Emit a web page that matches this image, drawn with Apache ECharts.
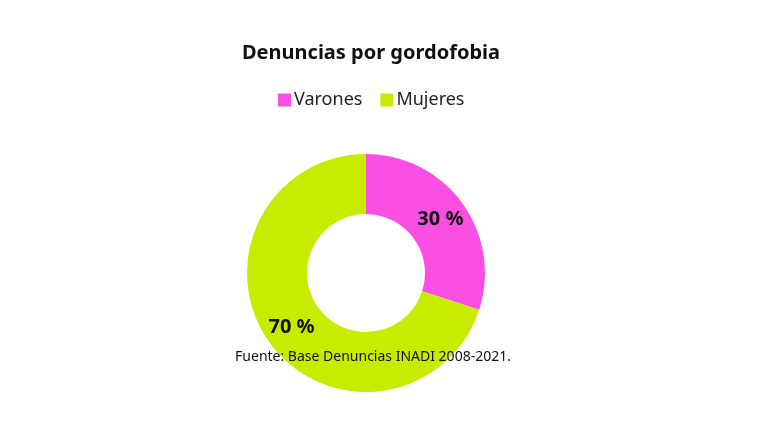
<!DOCTYPE html>
<html><head><meta charset="utf-8">
<script src="https://cdn.jsdelivr.net/npm/echarts@6/dist/echarts.min.js"></script>
<style>html,body{margin:0;padding:0;background:#fff}#c{width:768px;height:432px}</style>
</head><body><div id="c"></div>
<script>
const categories = ['Varones', 'Mujeres'];
const values = [30, 70];
const colors = ['#fb4fe3', '#c8ec00'];
const chart = echarts.init(document.getElementById('c'));
chart.setOption({
  animation: false,
  color: colors,
  title: [{
    text: 'Denuncias por gordofobia', left: 366, top: 38, textAlign: 'center',
    textStyle: {fontFamily: 'Noto Sans', fontWeight: 'bold', fontSize: 20, color: '#111'}
  }, {
    text: 'Fuente: Base Denuncias INADI 2008-2021.', left: 368, top: 345, textAlign: 'center',
    textStyle: {fontFamily: 'Noto Sans', fontWeight: 'normal', fontSize: 14, color: '#111'}
  }],
  legend: {
    data: categories, left: 273, top: 86, itemWidth: 13, itemHeight: 13, icon: 'rect', itemGap: 18,
    textStyle: {fontFamily: 'Noto Sans', fontSize: 18, color: '#222', padding: [0, 0, 0, -2]}
  },
  series: [{
    type: 'pie', center: [366, 273], radius: [59, 119], startAngle: 90, clockwise: true,
    z: 1,
    label: {position: 'inside', formatter: '{c} %', fontFamily: 'Noto Sans', fontWeight: 'bold', fontSize: 20, color: '#111'},
    labelLine: {show: false},
    itemStyle: {borderWidth: 0},
    emphasis: {disabled: true},
    data: categories.map((n, i) => ({name: n, value: values[i]}))
  }]
});
</script></body></html>
